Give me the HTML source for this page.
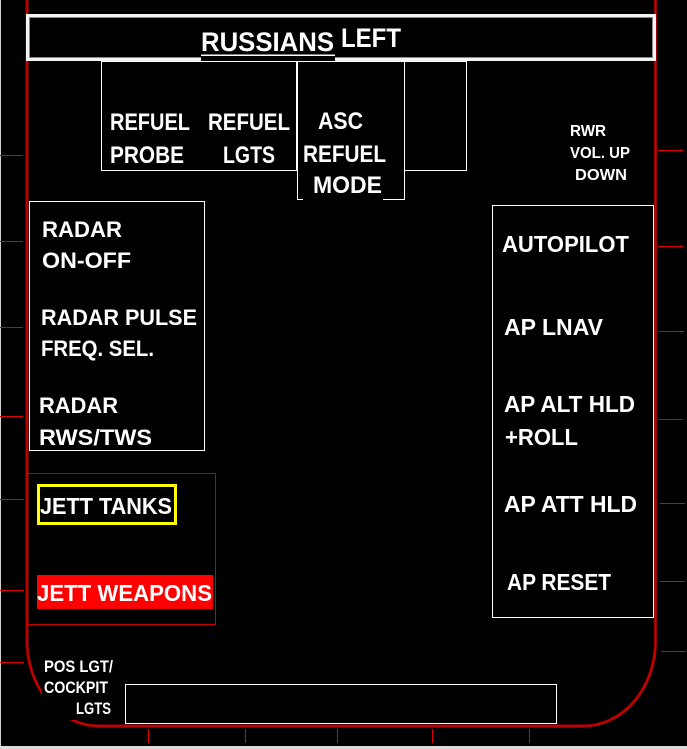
<!DOCTYPE html>
<html>
<head>
<meta charset="utf-8">
<style>
html,body{margin:0;padding:0;background:#000;}
svg{display:block;}
text{font-family:"Liberation Sans",Arial,sans-serif;font-weight:bold;fill:#fff;}
</style>
</head>
<body>
<svg width="687" height="749" viewBox="0 0 687 749" xmlns="http://www.w3.org/2000/svg">
  <rect x="0" y="0" width="687" height="749" fill="#000"/>
  <!-- outer light frame -->
  <rect x="0" y="0" width="1" height="746" fill="#cfcfcf"/>
  <rect x="0" y="746" width="687" height="3" fill="#dcdcdc"/>

  <!-- red rounded bezel -->
  <path d="M27,-4 V641 A72,85 0 0 0 99,726 H583 A72,85 0 0 0 655.5,641 V-4" fill="none" stroke="#8a0000" stroke-width="3.2"/>
  <path d="M27,-4 V641 A72,85 0 0 0 99,726 H583 A72,85 0 0 0 655.5,641 V-4" fill="none" stroke="#d40000" stroke-width="1.4"/>

  <!-- left ticks -->
  <g stroke="#e00000" stroke-width="1">
    <line x1="0" y1="155.5" x2="23" y2="155.5"/>
    <line x1="0" y1="241.5" x2="23" y2="241.5"/>
    <line x1="0" y1="327.5" x2="23" y2="327.5"/>
    <line x1="0" y1="416.5" x2="23" y2="416.5"/>
    <line x1="0" y1="499.5" x2="24" y2="499.5"/>
    <line x1="0" y1="590.5" x2="24" y2="590.5"/>
    <line x1="0" y1="662.5" x2="24" y2="662.5"/>
    <!-- right ticks -->
    <line x1="658" y1="150.5" x2="683" y2="150.5"/>
    <line x1="658" y1="246.5" x2="683" y2="246.5"/>
    <line x1="659" y1="331.5" x2="684" y2="331.5"/>
    <line x1="658" y1="419.5" x2="683" y2="419.5"/>
    <line x1="660" y1="503.5" x2="685" y2="503.5"/>
    <line x1="660" y1="581.5" x2="685" y2="581.5"/>
    <line x1="661" y1="651.5" x2="686" y2="651.5"/>
    <!-- bottom ticks -->
    <line x1="148.5" y1="729" x2="148.5" y2="743"/>
    <line x1="245.5" y1="729" x2="245.5" y2="743"/>
    <line x1="337.5" y1="729" x2="337.5" y2="743"/>
    <line x1="432.5" y1="729" x2="432.5" y2="743"/>
    <line x1="529.5" y1="729" x2="529.5" y2="743"/>
  </g>

  <!-- title box -->
  <rect x="27.5" y="15.5" width="627" height="44" fill="none" stroke="#f4f4f4" stroke-width="3"/>
  <rect x="29.5" y="17.5" width="623" height="40" fill="none" stroke="#8a8a8a" stroke-width="1"/>
  <rect x="201" y="27" width="134" height="35" fill="#000"/>
  <rect x="201" y="54.5" width="134" height="1.5" fill="#fff"/>
  <text x="201" y="51" font-size="27" textLength="133" lengthAdjust="spacingAndGlyphs">RUSSIANS</text>
  <text x="341" y="47" font-size="27" textLength="60" lengthAdjust="spacingAndGlyphs">LEFT</text>

  <!-- refuel boxes -->
  <g fill="none" stroke="#fff" stroke-width="1">
    <rect x="101.5" y="61.5" width="195" height="109"/>
    <rect x="404.5" y="61.5" width="62" height="109"/>
    <rect x="297.5" y="61.5" width="107" height="138"/>
  </g>
  <rect x="303" y="172" width="80" height="30" fill="#000"/>
  <text x="110" y="130" font-size="24" textLength="80" lengthAdjust="spacingAndGlyphs">REFUEL</text>
  <text x="110" y="163" font-size="24" textLength="74" lengthAdjust="spacingAndGlyphs">PROBE</text>
  <text x="208" y="130" font-size="24" textLength="82" lengthAdjust="spacingAndGlyphs">REFUEL</text>
  <text x="223" y="163" font-size="24" textLength="52" lengthAdjust="spacingAndGlyphs">LGTS</text>
  <text x="318" y="129" font-size="24" textLength="45" lengthAdjust="spacingAndGlyphs">ASC</text>
  <text x="303" y="162" font-size="24" textLength="83" lengthAdjust="spacingAndGlyphs">REFUEL</text>
  <text x="313" y="193" font-size="24" textLength="69" lengthAdjust="spacingAndGlyphs">MODE</text>

  <!-- RWR -->
  <text x="570" y="136" font-size="16" textLength="36" lengthAdjust="spacingAndGlyphs">RWR</text>
  <text x="570" y="158" font-size="16" textLength="60" lengthAdjust="spacingAndGlyphs">VOL. UP</text>
  <text x="575" y="180" font-size="16" textLength="52" lengthAdjust="spacingAndGlyphs">DOWN</text>

  <!-- radar box -->
  <rect x="29.5" y="201.5" width="175" height="249" fill="none" stroke="#fff" stroke-width="1"/>
  <text x="42" y="237" font-size="22.5" textLength="80" lengthAdjust="spacingAndGlyphs">RADAR</text>
  <text x="42" y="268" font-size="22.5" textLength="89" lengthAdjust="spacingAndGlyphs">ON-OFF</text>
  <text x="41" y="325" font-size="22.5" textLength="156" lengthAdjust="spacingAndGlyphs">RADAR PULSE</text>
  <text x="41" y="356" font-size="22.5" textLength="113" lengthAdjust="spacingAndGlyphs">FREQ. SEL.</text>
  <text x="39" y="413" font-size="22.5" textLength="79" lengthAdjust="spacingAndGlyphs">RADAR</text>
  <text x="39" y="445" font-size="22.5" textLength="113" lengthAdjust="spacingAndGlyphs">RWS/TWS</text>

  <!-- jett box -->
  <rect x="27.5" y="473.5" width="188" height="151" fill="none" stroke="#c80000" stroke-width="1"/>
  <rect x="38.5" y="485.5" width="137" height="38" fill="none" stroke="#ffff00" stroke-width="3"/>
  <text x="40" y="514" font-size="23" textLength="132" lengthAdjust="spacingAndGlyphs">JETT TANKS</text>
  <rect x="37" y="575" width="176" height="34" fill="#ff0000"/>
  <text x="37" y="601" font-size="23" textLength="175" lengthAdjust="spacingAndGlyphs">JETT WEAPONS</text>

  <!-- autopilot box -->
  <rect x="492.5" y="205.5" width="161" height="412" fill="none" stroke="#fff" stroke-width="1"/>
  <text x="502" y="252" font-size="23.5" textLength="127" lengthAdjust="spacingAndGlyphs">AUTOPILOT</text>
  <text x="504" y="335" font-size="23.5" textLength="99" lengthAdjust="spacingAndGlyphs">AP LNAV</text>
  <text x="504" y="412" font-size="23.5" textLength="131" lengthAdjust="spacingAndGlyphs">AP ALT HLD</text>
  <text x="505" y="445" font-size="23.5" textLength="73" lengthAdjust="spacingAndGlyphs">+ROLL</text>
  <text x="504" y="512" font-size="23.5" textLength="133" lengthAdjust="spacingAndGlyphs">AP ATT HLD</text>
  <text x="507" y="590" font-size="23.5" textLength="104" lengthAdjust="spacingAndGlyphs">AP RESET</text>

  <!-- pos lgt -->
  <rect x="42" y="653" width="74" height="67" fill="#000"/>
  <text x="44" y="672" font-size="17" textLength="69" lengthAdjust="spacingAndGlyphs">POS LGT/</text>
  <text x="44" y="693" font-size="17" textLength="64" lengthAdjust="spacingAndGlyphs">COCKPIT</text>
  <text x="76" y="714" font-size="17" textLength="35" lengthAdjust="spacingAndGlyphs">LGTS</text>
  <rect x="125.5" y="684.5" width="431" height="39" fill="none" stroke="#fff" stroke-width="1"/>
</svg>
</body>
</html>
